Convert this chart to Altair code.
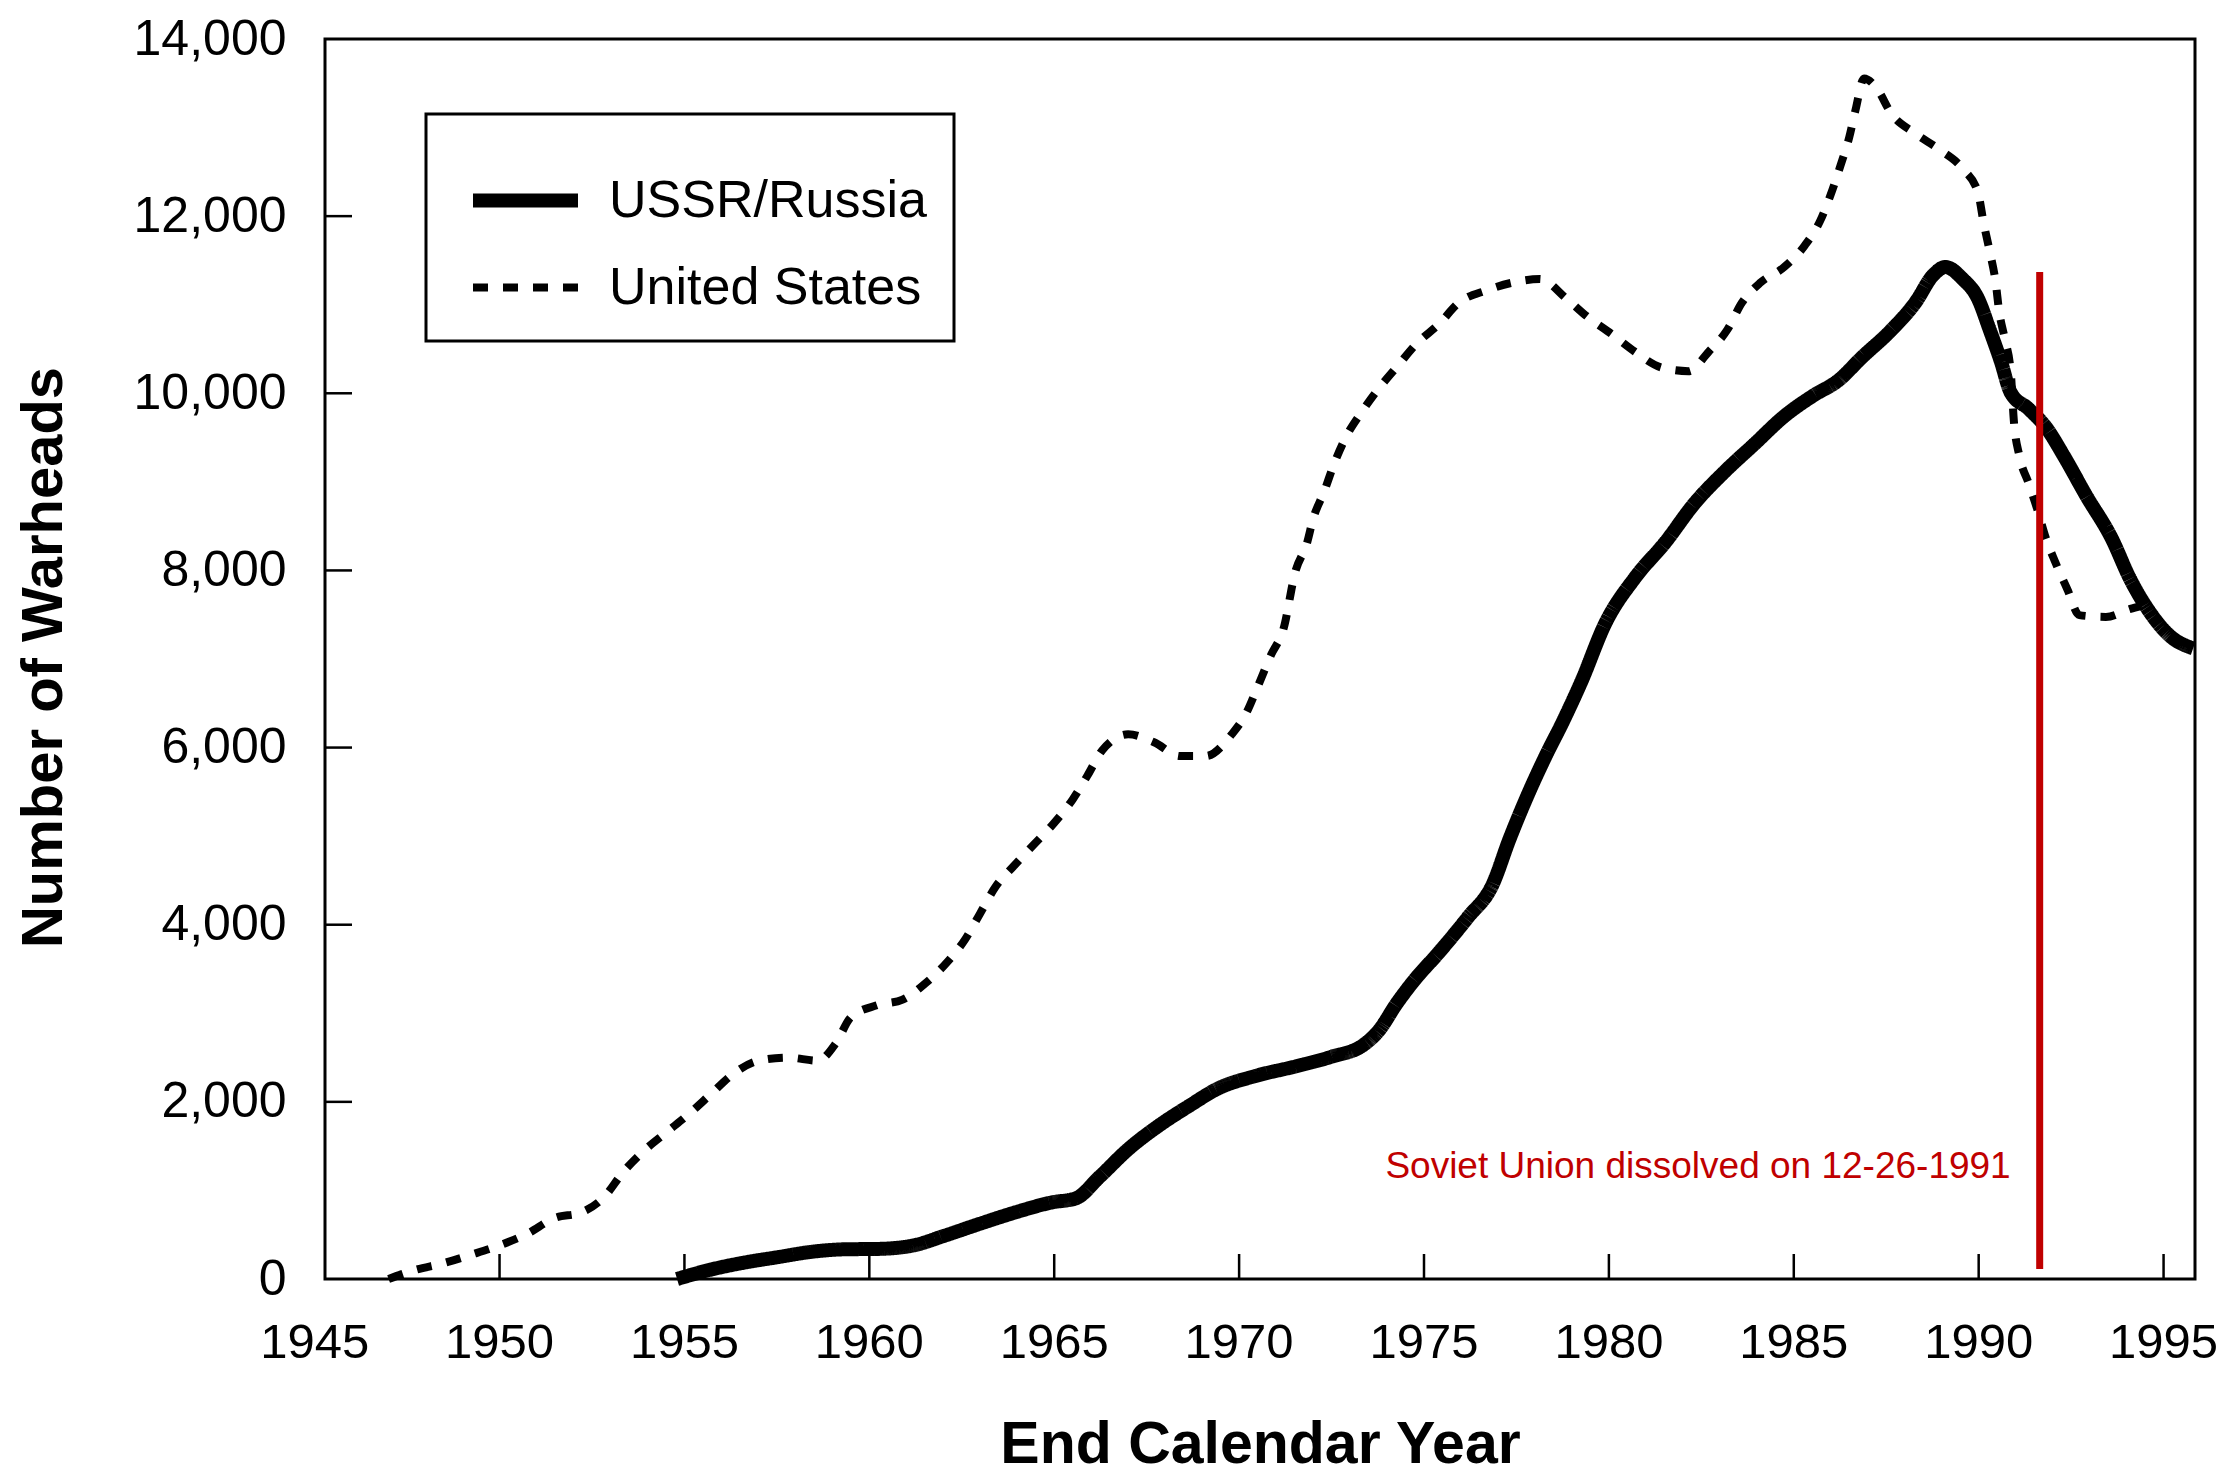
import altair as alt
import pandas as pd

# ---------------- data ----------------
series_names = ["USSR/Russia", "United States"]

us_years = [1947.0, 1947.7, 1948.5, 1949.2, 1950.0, 1950.75, 1951.5, 1952.2, 1952.85, 1953.33,
            1953.9, 1954.54, 1955.14, 1955.72, 1956.3, 1957.0, 1957.8, 1958.6, 1959.1, 1959.5,
            1960.2, 1960.9, 1961.55, 1962.1, 1962.6, 1963.0, 1963.4, 1963.9, 1964.45, 1965.0,
            1965.5, 1965.9, 1966.3, 1967.0, 1967.7, 1968.4, 1969.1, 1969.8, 1970.2, 1970.5,
            1970.87, 1971.2, 1971.52, 1971.84, 1972.0, 1972.3, 1972.57, 1972.9, 1973.3, 1973.77,
            1974.3, 1974.8, 1975.4, 1975.95, 1976.68, 1977.4, 1978.13, 1978.85, 1979.4, 1980.07,
            1980.7, 1981.43, 1982.15, 1982.7, 1983.2, 1983.6, 1984.1, 1984.74, 1985.3, 1985.7,
            1986.0, 1986.27, 1986.5, 1986.67, 1986.9, 1987.24, 1987.64, 1988.28, 1988.93, 1989.57,
            1989.98, 1990.14, 1990.3, 1990.46, 1990.55, 1990.7, 1990.87, 1990.95, 1991.1, 1991.35,
            1991.6, 1991.8, 1992.07, 1992.4, 1992.72, 1993.44, 1994.1, 1994.4]
us_values = [0, 100, 180, 270, 380, 510, 690, 750, 935, 1200,
             1445, 1665, 1870, 2090, 2310, 2465, 2500, 2465, 2665, 2955,
             3090, 3155, 3350, 3575, 3840, 4130, 4420, 4660, 4905, 5150,
             5415, 5685, 5970, 6150, 6060, 5905, 5905, 6150, 6395, 6685,
             7052, 7340, 7985, 8315, 8580, 8890, 9205, 9515, 9780, 10050,
             10315, 10560, 10780, 11025, 11160, 11250, 11290, 11070, 10870, 10670,
             10470, 10290, 10250, 10470, 10715, 11025, 11250, 11425, 11670, 11935,
             12245, 12580, 12890, 13200, 13555, 13445, 13155, 12935, 12755, 12535,
             12270, 11910, 11600, 11250, 10935, 10625, 10225, 9695, 9295, 8985,
             8670, 8385, 8095, 7785, 7495, 7475, 7565, 7600]

ussr_years = [1954.8, 1955.75, 1956.55, 1957.5, 1958.5, 1959.3, 1960.26, 1961.2, 1962.04, 1963.0,
              1963.97, 1964.94, 1965.58, 1966.23, 1967.0, 1967.84, 1968.65, 1969.45, 1970.42, 1971.52,
              1972.5, 1973.37, 1973.77, 1974.26, 1974.74, 1975.4, 1976.19, 1976.84, 1977.32, 1977.8,
              1978.29, 1978.77, 1979.26, 1979.9, 1980.71, 1981.52, 1982.32, 1983.13, 1983.93, 1984.74,
              1985.55, 1986.19, 1986.84, 1987.64, 1988.29, 1988.77, 1989.1, 1989.57, 1989.98, 1990.3,
              1990.6, 1990.87, 1991.35, 1991.84, 1992.3, 1992.9, 1993.6, 1994.1, 1994.57, 1995.2,
              1995.8]
ussr_values = [0, 110, 180, 245, 310, 335, 340, 380, 490, 625,
               755, 865, 910, 1155, 1465, 1735, 1955, 2155, 2290, 2400,
               2510, 2645, 2800, 3110, 3375, 3685, 4085, 4440, 4975, 5460,
               5905, 6305, 6750, 7400, 7920, 8315, 8760, 9115, 9425, 9740,
               9980, 10140, 10405, 10715, 11025, 11335, 11425, 11290, 11070, 10715,
               10360, 10005, 9825, 9605, 9295, 8850, 8360, 7900, 7565, 7250,
               7120]

x_label_years = [1945, 1950, 1955, 1960, 1965, 1970, 1975, 1980, 1985, 1990, 1995]
x_tick_years = [1950, 1955, 1960, 1965, 1970, 1975, 1980, 1985, 1990, 1995]
y_tick_values = [0, 2000, 4000, 6000, 8000, 10000, 12000, 14000]
y_inner_ticks = [2000, 4000, 6000, 8000, 10000, 12000]

event_year = [1991.65]
event_text = ["Soviet Union dissolved on 12-26-1991"]

# ---------------- tables ----------------
lines_df = pd.concat([
    pd.DataFrame({"year": ussr_years, "warheads": ussr_values, "series": series_names[0]}),
    pd.DataFrame({"year": us_years, "warheads": us_values, "series": series_names[1]}),
], ignore_index=True)
xlab_df = pd.DataFrame({"year": x_label_years, "label": [str(v) for v in x_label_years]})
xtick_df = pd.DataFrame({"year": x_tick_years})
ytick_df = pd.DataFrame({"warheads": y_inner_ticks})
event_df = pd.DataFrame({"year": event_year, "text": event_text})

FONT = "Liberation Sans"
W, H = 1870, 1240
xscale = alt.Scale(domain=[1945.28, 1995.85], nice=False, zero=False)
yscale = alt.Scale(domain=[0, 14000], nice=False, zero=False)

xaxis = alt.Axis(
    labels=False, ticks=False, tickSize=0, domain=False, grid=False,
    title="End Calendar Year", titleFont=FONT, titleFontSize=59, titleFontWeight="bold",
    titleColor="black", titleX=W / 2, titleY=183, titleAlign="center", titleBaseline="alphabetic")
yaxis = alt.Axis(
    values=y_tick_values, format=",d", labelFont=FONT, labelFontSize=50, labelColor="black",
    ticks=False, tickSize=0, domain=False, grid=False, labelPadding=39,
    title="Number of Warheads", titleFont=FONT, titleFontSize=58, titleFontWeight="bold",
    titleColor="black", titleAngle=270, titleX=-264, titleY=618, titleAlign="center",
    titleBaseline="alphabetic")

leg = alt.Legend(
    orient="none", legendX=101, legendY=75, title=None, padding=27,
    strokeColor="black", fillColor="white",
    labelFont=FONT, labelFontSize=52, labelColor="black", labelOffset=24, labelLimit=1000,
    symbolType="stroke", symbolSize=11025, symbolStrokeColor="black", symbolOffset=13,
    rowPadding=2,
)

lines = alt.Chart(lines_df).mark_line(color="black", interpolate="monotone", strokeCap="butt", strokeJoin="round").encode(
    x=alt.X("year:Q", scale=xscale, axis=xaxis),
    y=alt.Y("warheads:Q", scale=yscale, axis=yaxis),
    strokeDash=alt.StrokeDash("series:N", scale=alt.Scale(domain=series_names, range=[[1, 0], [15, 15]]), legend=leg),
    strokeWidth=alt.StrokeWidth("series:N", scale=alt.Scale(domain=series_names, range=[14, 8]), legend=leg),
)

xticks = alt.Chart(xtick_df).mark_rule(color="black", strokeWidth=2.5).encode(
    x=alt.X("year:Q", scale=xscale, axis=xaxis),
    y=alt.value(H), y2=alt.value(H - 25),
)

yticks = alt.Chart(ytick_df).mark_rule(color="black", strokeWidth=2.5).encode(
    y=alt.Y("warheads:Q", scale=yscale, axis=yaxis),
    x=alt.value(0), x2=alt.value(27),
)

xlabels = alt.Chart(xlab_df).mark_text(
    font=FONT, fontSize=49, color="black", align="center", baseline="top"
).encode(
    x=alt.X("year:Q", scale=xscale, axis=xaxis),
    y=alt.value(H + 40),
    text="label:N",
)

event_rule = alt.Chart(event_df).mark_rule(color="#C00000", strokeWidth=7).encode(
    x=alt.X("year:Q", scale=xscale, axis=xaxis),
    y=alt.value(233), y2=alt.value(1230),
)

event_label = alt.Chart(event_df).mark_text(
    font=FONT, fontSize=37, color="#C00000", align="right", baseline="alphabetic", dx=-29
).encode(
    x=alt.X("year:Q", scale=xscale, axis=xaxis),
    y=alt.value(1139),
    text="text:N",
)

chart = alt.layer(lines, xticks, yticks, xlabels, event_rule, event_label).properties(
    width=W, height=H,
    autosize=alt.AutoSizeParams(type="none"),
    padding={"left": 317, "top": 31, "right": 30, "bottom": 196},
    background="white",
).configure_view(
    stroke="black", strokeWidth=3
).configure_legend(
    strokeWidth=3
)

chart.save("out.html", embed_options={"renderer": "svg", "actions": False})
